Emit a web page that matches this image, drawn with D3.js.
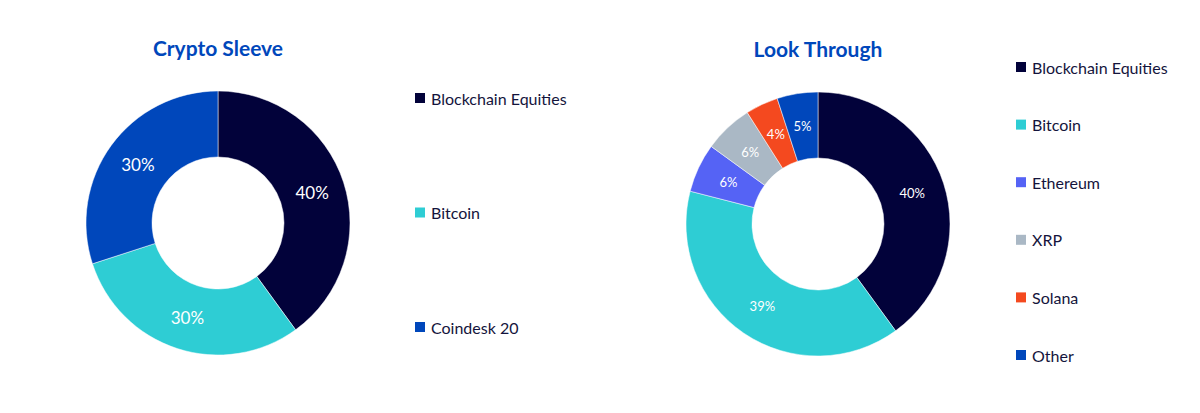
<!DOCTYPE html>
<html>
<head>
<meta charset="utf-8">
<script src="https://cdn.jsdelivr.net/npm/d3@7"></script>
<style>
  body { margin: 0; background: #fff; }
  svg { display: block; font-family: Lato, "Open Sans", sans-serif; }
</style>
</head>
<body>
<script>
// data
var sleeveNames = ['Blockchain Equities', 'Bitcoin', 'Coindesk 20'];
var sleeveValues = [40, 30, 30];
var sleeveColors = ['#02023a', '#2ecdd4', '#0047bb'];

var lookNames = ['Blockchain Equities', 'Bitcoin', 'Ethereum', 'XRP', 'Solana', 'Other'];
var lookValues = [40, 39, 6, 6, 4, 5];
var lookColors = ['#02023a', '#2ecdd4', '#5563f5', '#aab8c5', '#f4491f', '#0047bb'];

var width = 1200, height = 413;
var svg = d3.select('body').append('svg').attr('width', width).attr('height', height);

function drawDonut(opts) {
    var g = svg.append('g').attr('transform', 'translate(' + opts.cx + ',' + opts.cy + ')');

    var pie = d3.pie().sort(null).value(function(d){ return d; });
    var arc = d3.arc().innerRadius(opts.inner).outerRadius(opts.outer);
    var labelArc = d3.arc().innerRadius((opts.inner + opts.outer) / 2).outerRadius((opts.inner + opts.outer) / 2);

    var arcs = pie(opts.values);

    g.selectAll('path')
        .data(arcs)
        .enter().append('path')
            .attr('d', arc)
            .attr('fill', function(d, i){ return opts.colors[i]; })
            .attr('stroke', '#fff')
            .attr('stroke-width', 0.5);

    g.selectAll('text.lbl')
        .data(arcs)
        .enter().append('text')
            .attr('class', 'lbl')
            .attr('transform', function(d){ return 'translate(' + labelArc.centroid(d) + ')'; })
            .attr('text-anchor', 'middle')
            .attr('dominant-baseline', 'central')
            .attr('fill', '#fff')
            .attr('font-size', opts.labelSize)
            .text(function(d){ return d.data + '%'; });

    svg.append('text')
        .attr('x', opts.cx)
        .attr('y', opts.titleY)
        .attr('text-anchor', 'middle')
        .attr('dominant-baseline', 'central')
        .attr('fill', '#0047bb')
        .attr('font-weight', 'bold')
        .attr('font-size', 21)
        .text(opts.title);

    var ly = d3.scalePoint().domain(opts.names).range(opts.legendRange);
    var leg = svg.append('g');
    var item = leg.selectAll('g')
        .data(opts.names)
        .enter().append('g')
            .attr('transform', function(d){ return 'translate(' + opts.legendX + ',' + ly(d) + ')'; });
    item.append('rect')
        .attr('x', 0).attr('y', -5)
        .attr('width', 10).attr('height', 10)
        .attr('fill', function(d, i){ return opts.colors[i]; });
    item.append('text')
        .attr('x', 16)
        .attr('dominant-baseline', 'central')
        .attr('fill', '#14143c')
        .attr('font-size', 16)
        .text(function(d){ return d; });
}

drawDonut({
    cx: 218, cy: 223, outer: 132, inner: 66,
    values: sleeveValues, colors: sleeveColors, names: sleeveNames,
    labelSize: 17, title: 'Crypto Sleeve', titleY: 47,
    legendX: 415, legendRange: [98, 327]
});

drawDonut({
    cx: 818, cy: 224, outer: 132, inner: 66,
    values: lookValues, colors: lookColors, names: lookNames,
    labelSize: 13, title: 'Look Through', titleY: 48,
    legendX: 1016, legendRange: [67, 355]
});
</script>
</body>
</html>
